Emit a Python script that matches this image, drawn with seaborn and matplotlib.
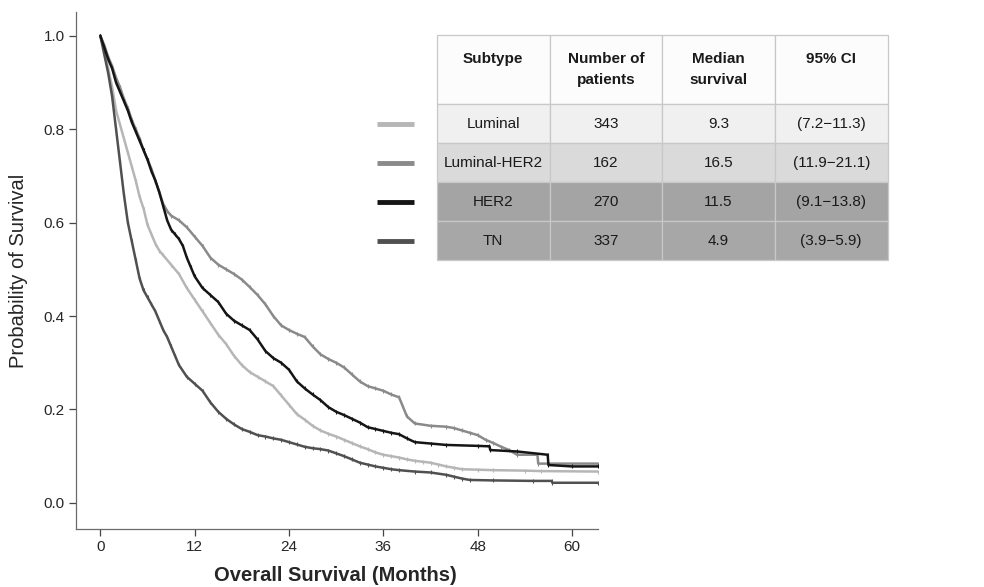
import numpy as np
import pandas as pd
import seaborn as sns
import matplotlib.pyplot as plt

# --- Dados (meses, probabilidade de sobrevida) ---

subtypes = ["Luminal", "Luminal-HER2", "HER2", "TN"]
n_patients = ["343", "162", "270", "337"]
median_surv = ["9.3", "16.5", "11.5", "4.9"]
ci_95 = ["(7.2\u221211.3)", "(11.9\u221221.1)", "(9.1\u221213.8)", "(3.9\u22125.9)"]
header = ["Subtype", "Number of\npatients", "Median\nsurvival", "95% CI"]

x_ticks = [0, 12, 24, 36, 48, 60]
y_ticks = [0.0, 0.2, 0.4, 0.6, 0.8, 1.0]

t_luminal = [0, 0.5, 1, 1.5, 2, 2.5, 3, 3.5, 4, 4.5, 5, 5.5, 6, 6.5, 7, 7.5, 8, 9, 10,
             11, 12, 13, 14, 15, 16, 17, 18, 19, 20, 21, 22, 23, 24, 25, 26, 27, 28,
             29, 30, 31, 32, 33, 34, 35, 36, 37, 38, 39, 40, 41, 42, 43, 44, 45, 46,
             48, 50, 54, 56, 63.3]
s_luminal = [1.0, 0.97, 0.93, 0.89, 0.84, 0.81, 0.78, 0.75, 0.72, 0.69, 0.655, 0.63,
             0.595, 0.575, 0.555, 0.54, 0.53, 0.51, 0.49, 0.46, 0.435, 0.41, 0.385,
             0.36, 0.34, 0.315, 0.295, 0.28, 0.27, 0.26, 0.25, 0.23, 0.21, 0.19, 0.178,
             0.165, 0.155, 0.148, 0.142, 0.135, 0.128, 0.121, 0.115, 0.108, 0.103, 0.1,
             0.097, 0.093, 0.09, 0.088, 0.086, 0.082, 0.078, 0.075, 0.072, 0.071, 0.07,
             0.069, 0.068, 0.067]

t_lumher2 = [0, 0.5, 1, 1.5, 2, 2.5, 3, 3.5, 4, 4.5, 5, 5.5, 6, 6.5, 7, 7.5, 8, 8.5, 9,
             10, 11, 12, 13, 14, 15, 16, 17, 18, 19, 20, 21, 22, 23, 24, 25, 26, 27, 28,
             29, 30, 31, 32, 33, 34, 35, 36, 37, 38, 39, 40, 42, 44, 45, 46, 47,
             48, 49, 50, 51, 52, 53, 55.6, 55.7, 63.3]
s_lumher2 = [1.0, 0.98, 0.955, 0.935, 0.91, 0.89, 0.865, 0.845, 0.82, 0.8, 0.78, 0.755,
             0.735, 0.715, 0.69, 0.665, 0.64, 0.625, 0.615, 0.605, 0.59, 0.57, 0.55,
             0.525, 0.51, 0.5, 0.49, 0.478, 0.462, 0.445, 0.425, 0.4, 0.38, 0.37, 0.362,
             0.355, 0.335, 0.318, 0.308, 0.3, 0.29, 0.275, 0.26, 0.25, 0.245, 0.24, 0.232,
             0.226, 0.185, 0.17, 0.165, 0.163, 0.16, 0.155, 0.15, 0.145, 0.135,
             0.128, 0.12, 0.113, 0.103, 0.103, 0.084, 0.084]

t_her2 = [0, 0.5, 1, 1.5, 2, 2.5, 3, 3.5, 4, 4.5, 5, 5.5, 6, 6.5, 7, 7.5, 8, 8.5, 9, 9.5,
          10, 10.5, 11, 11.5, 12, 13, 14, 15, 16, 17, 18, 19, 20, 21, 22, 23, 24, 25, 26,
          27, 28, 29, 30, 31, 32, 33, 34, 35, 36, 37, 38, 39, 40, 42, 44, 48, 49.5, 49.6,
          53, 56.9, 57, 60, 63.3]
s_her2 = [1.0, 0.975, 0.95, 0.93, 0.9, 0.88, 0.86, 0.84, 0.815, 0.795, 0.775, 0.755,
          0.735, 0.71, 0.69, 0.665, 0.635, 0.605, 0.585, 0.575, 0.565, 0.55, 0.525, 0.505,
          0.485, 0.46, 0.445, 0.43, 0.405, 0.39, 0.38, 0.37, 0.35, 0.325, 0.31, 0.3,
          0.285, 0.26, 0.245, 0.232, 0.22, 0.205, 0.195, 0.188, 0.18, 0.172, 0.162,
          0.158, 0.154, 0.15, 0.147, 0.138, 0.13, 0.127, 0.124, 0.122, 0.121, 0.113,
          0.11, 0.103, 0.081, 0.078, 0.078]

t_tn = [0, 0.5, 1, 1.5, 2, 2.5, 3, 3.5, 4, 4.5, 5, 5.5, 6, 6.5, 7, 7.5, 8, 8.5, 9, 9.5,
        10, 11, 12, 13, 14, 15, 16, 17, 18, 19, 20, 21, 22, 23, 24, 25, 26, 27, 28, 29,
        30, 31, 32, 33, 34, 35, 36, 37, 38, 40, 42, 44, 45, 46, 47, 50, 55, 57.4, 57.5,
        63.3]
s_tn = [1.0, 0.96, 0.92, 0.87, 0.8, 0.73, 0.66, 0.6, 0.56, 0.52, 0.48, 0.455, 0.44,
        0.425, 0.41, 0.39, 0.37, 0.355, 0.335, 0.315, 0.295, 0.27, 0.255, 0.24, 0.215,
        0.195, 0.18, 0.168, 0.158, 0.152, 0.145, 0.142, 0.138, 0.135, 0.13, 0.125, 0.12,
        0.117, 0.115, 0.112, 0.106, 0.1, 0.093, 0.086, 0.082, 0.078, 0.075, 0.072, 0.07,
        0.067, 0.065, 0.06, 0.056, 0.052, 0.049, 0.048, 0.047, 0.047, 0.043, 0.043]

curves = {
    "Luminal": (t_luminal, s_luminal),
    "TN": (t_tn, s_tn),
    "Luminal-HER2": (t_lumher2, s_lumher2),
    "HER2": (t_her2, s_her2),
}

cores = {"Luminal": "#b6b6b6", "Luminal-HER2": "#8a8a8a", "HER2": "#151515", "TN": "#505050"}
row_colors = ["#f0f0f0", "#dadada", "#a4a4a4", "#a7a7a7"]

# --- Estilo ---
sns.set_theme(style="white")
plt.rcParams['font.family'] = ['Liberation Sans', 'DejaVu Sans']

partes = []
for nome, (t, s) in curves.items():
    partes.append(pd.DataFrame({"month": t, "surv": s, "subtype": nome}))
df = pd.concat(partes, ignore_index=True)

fig = plt.figure(figsize=(9.84, 5.87), dpi=100)
ax = fig.add_axes([0.0772, 0.0988, 0.5305, 0.8808])

sns.lineplot(
    data=df, x="month", y="surv", hue="subtype",
    hue_order=list(curves.keys()), palette=cores,
    estimator=None, sort=False,
    linewidth=1.8, marker="|", markersize=3.5, markeredgewidth=0.8,
    legend=False, ax=ax
)
# marcas de censura na mesma cor da curva
for ln in ax.lines:
    ln.set_markeredgecolor(ln.get_color())

ax.set_xlim(-3.1, 63.3)
ax.set_ylim(-0.056, 1.051)
ax.set_xticks(x_ticks)
ax.set_yticks(y_ticks)
ax.set_yticklabels([f"{v:.1f}" for v in y_ticks])
ax.tick_params(axis="both", direction="out", length=5, width=0.9, color="#444444",
               labelsize=11, pad=3, bottom=True, left=True)
for side in ["top", "right"]:
    ax.spines[side].set_visible(False)
for side in ["left", "bottom"]:
    ax.spines[side].set_color("#6a6a6a")
    ax.spines[side].set_linewidth(0.9)

ax.set_xlabel("Overall Survival (Months)", fontsize=14.5, fontweight="bold")
ax.set_ylabel("Probability of Survival", fontsize=14.5)
ax.xaxis.set_label_coords(0.496, -0.072)
ax.yaxis.set_label_coords(-0.091, 0.5)

# --- Tabela ---
tax = fig.add_axes([0.444, 0.557, 0.458, 0.383])
tax.axis("off")
linhas = [[subtypes[i], n_patients[i], median_surv[i], ci_95[i]] for i in range(len(subtypes))]
tab = tax.table(cellText=linhas, colLabels=header, cellLoc="center", bbox=[0, 0, 1, 1])
tab.auto_set_font_size(False)
tab.set_fontsize(11)

h_head, h_row = 69, 39
for (r, c), cell in tab.get_celld().items():
    cell.set_edgecolor("#c8c8c8")
    cell.set_linewidth(0.9)
    txt = cell.get_text()
    if r == 0:
        cell.set_height(h_head)
        cell.set_facecolor("#fcfcfc")
        txt.set_fontweight("bold")
        txt.set_linespacing(1.65)
        if "\n" not in txt.get_text():
            txt.set_text(txt.get_text() + "\n ")
    else:
        cell.set_height(h_row)
        cell.set_facecolor(row_colors[r - 1])
    txt.set_color("#1a1a1a")

# amostras de linha (legenda) ao lado da tabela
total = h_head + h_row * len(subtypes)
for i, nome in enumerate(subtypes):
    yc = (len(subtypes) - i - 0.5) * h_row / total
    tax.plot([-0.133, -0.051], [yc, yc], color=cores[nome], lw=3.5,
             transform=tax.transAxes, clip_on=False, solid_capstyle="butt")

fig.savefig("out.png", dpi=100)
